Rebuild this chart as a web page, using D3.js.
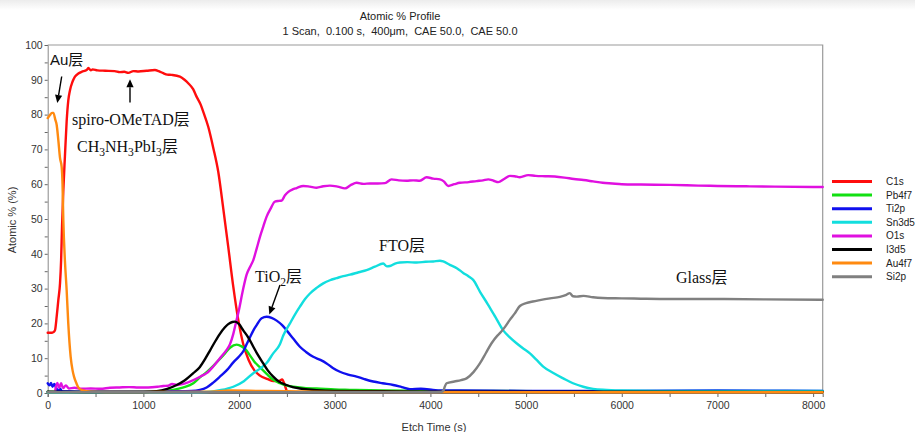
<!DOCTYPE html>
<html>
<head>
<meta charset="utf-8">
<script src="https://cdn.jsdelivr.net/npm/d3@7/dist/d3.min.js"></script>
<style>
  html, body { margin: 0; padding: 0; background: #fff; }
  svg { display: block; }
  .tick text { font-family: "Liberation Sans", Arial, sans-serif; font-size: 10.5px; fill: #333; }
  .serif { font-family: "Liberation Serif", "Times New Roman", "Noto Sans CJK SC", serif; fill: #111; }
</style>
</head>
<body>
<svg id="chart" width="915" height="432"></svg>
<script>
// Depth profile: atomic % of each element versus etch time (s)
const c1s = [[0,17.3],[40,17.3],[60,17.5],[76,18],[94,22],[111,26.7],[129,31.6],[140,38],[150,48],[163,58],[180,68],[198,78],[215,84],[233,87],[260,89.5],[285,90.9],[320,91.8],[355,92.3],[407,92.8],[425,93.4],[450,92.7],[470,93],[520,92.7],[600,92.6],[700,92.5],[755,92.2],[800,92.3],[843,92],[895,92.5],[950,92.4],[1034,92.6],[1121,92.8],[1160,92.5],[1208,91.9],[1250,91.5],[1295,91.4],[1382,90.9],[1430,90],[1469,89],[1520,87.3],[1557,85.1],[1600,82.8],[1626,80.8],[1678,76.5],[1730,70.5],[1783,63.5],[1835,53],[1887,42],[1940,30.5],[1992,21],[2044,14],[2100,9.5],[2160,6.5],[2218,5],[2300,4],[2360,3.4],[2420,3.5],[2450,3.9],[2475,2.5],[2500,0.3]];
const pb4f7 = [[0,0.3],[500,0.3],[1000,0.4],[1200,0.6],[1311,0.9],[1420,1.6],[1522,2.8],[1591,4.5],[1661,6],[1731,7.8],[1800,9.8],[1853,11.4],[1905,13],[1975,13.9],[2027,13.4],[2070,12.5],[2114,10.8],[2160,9],[2218,7.4],[2288,5.5],[2357,3.8],[2427,2.8],[2500,2.1],[2566,1.8],[2700,1.4],[2811,1.3],[3000,1],[3159,0.9],[3507,0.7],[4000,0.6],[4200,0.6],[6000,0.5],[8100,0.5]];
const ti2p = [[0,2.8],[20,2.2],[35,2.9],[50,1.8],[70,2.6],[90,1.4],[110,0.6],[130,1.2],[150,0.5],[300,0.4],[600,0.4],[1000,0.4],[1300,0.5],[1500,0.6],[1591,0.9],[1661,1.6],[1730,3],[1800,4.7],[1870,6.5],[1940,8.8],[2000,10.5],[2044,12],[2079,14],[2114,16],[2150,18],[2184,19.5],[2236,21.5],[2288,21.9],[2340,21.6],[2393,20.8],[2450,19.5],[2497,18],[2570,15.5],[2636,13.3],[2700,11.8],[2775,10.4],[2850,9.5],[2915,8.5],[2980,7.2],[3054,6.1],[3140,5.3],[3229,4.7],[3310,4],[3402,3.3],[3500,2.8],[3611,2.3],[3700,1.7],[3786,1.1],[3900,1.2],[4026,0.9],[4100,0.7],[4300,0.7],[5000,0.6],[6000,0.6],[7000,0.7],[8100,0.6]];
const sn3d5 = [[0,0.2],[1500,0.2],[1661,0.3],[1800,0.8],[1940,1.8],[2050,3.4],[2149,5.7],[2220,7],[2288,8.6],[2357,11.4],[2427,14],[2462,16.5],[2532,20],[2590,22.8],[2636,24.8],[2690,27],[2741,28.6],[2810,30.2],[2880,31.5],[2950,32.4],[3019,33],[3090,33.6],[3159,34],[3250,34.7],[3333,35.3],[3420,36.3],[3507,37.2],[3545,36.4],[3577,36.5],[3630,37.2],[3681,37.5],[3760,37.6],[3856,37.5],[3950,37.7],[4029,37.8],[4100,38],[4134,37.8],[4203,36.8],[4280,35.8],[4343,34.5],[4400,33.5],[4447,32.5],[4520,29],[4600,25.5],[4680,21.8],[4761,18],[4830,16],[4900,14.3],[4970,12.8],[5040,11.4],[5110,9.5],[5179,7.6],[5280,5.8],[5388,4.2],[5490,2.8],[5597,1.8],[5700,1.2],[5841,0.9],[6000,0.7],[6500,0.6],[7000,0.6],[8100,0.6]];
const o1s = [[80,1],[100,2.9],[120,1.5],[140,2.8],[160,1.4],[190,2.2],[220,1.3],[280,1.5],[350,1.2],[450,1.3],[550,1.2],[650,1.5],[750,1.6],[850,1.7],[950,1.6],[1050,1.6],[1150,1.8],[1207,2],[1260,2.1],[1300,2.6],[1350,2.3],[1452,2.9],[1530,3.8],[1600,4.8],[1661,5.7],[1730,7.6],[1800,10],[1870,12.4],[1905,14],[1940,17],[1970,20.5],[2000,24],[2040,29.5],[2079,34],[2120,36.5],[2149,38.2],[2184,41.5],[2220,45],[2253,47.8],[2288,50.7],[2330,53],[2375,55],[2420,55.2],[2445,55.3],[2480,56.8],[2515,57.8],[2560,58.5],[2602,58.9],[2671,59.5],[2740,59.3],[2811,59],[2880,59.4],[2950,59.6],[3030,59.3],[3107,58.8],[3170,59.8],[3229,60.4],[3300,60.1],[3368,60.2],[3450,60.2],[3525,60.3],[3594,61.4],[3670,61.1],[3751,61],[3820,61.1],[3890,61],[3960,62],[4030,61.6],[4099,61.4],[4140,60.8],[4186,59.5],[4250,60],[4308,60.4],[4400,60.6],[4482,60.9],[4550,61.1],[4604,61.4],[4660,61],[4709,60.6],[4770,61.5],[4831,62.4],[4880,62.3],[4935,62],[5022,62.6],[5100,62.4],[5200,62.3],[5300,62.2],[5400,61.9],[5500,61.5],[5600,61.2],[5700,60.8],[5800,60.4],[5900,60.2],[6000,60],[6200,59.9],[6500,59.8],[6800,59.6],[7000,59.5],[7300,59.4],[7600,59.3],[8000,59.2],[8100,59.2]];
const i3d5 = [[0,0.4],[500,0.3],[1000,0.3],[1139,0.5],[1250,1.2],[1348,2.3],[1430,3.6],[1522,5.7],[1591,7.5],[1650,10],[1696,12.2],[1750,14.8],[1800,17],[1850,18.8],[1887,19.8],[1930,20.4],[1957,20.5],[2000,19.8],[2044,18],[2100,15.8],[2149,13.3],[2200,10.8],[2253,8.5],[2300,6.5],[2357,4.7],[2420,3.2],[2497,2.3],[2560,1.7],[2636,1.3],[2720,1],[2811,0.8],[3000,0.6],[3500,0.5],[4000,0.4],[4200,0.4],[8100,0.3]];
const au4f7 = [[0,79],[24,79.9],[45,80.5],[59,80.5],[80,78.5],[94,77],[111,72.7],[129,67.5],[146,65],[155,60],[163,50],[180,38],[198,29.6],[215,20],[240,10.4],[260,6.5],[275,4.7],[300,2.8],[320,1.6],[360,0.8],[450,0.4],[600,0.3],[1000,0.3],[1700,0.4],[1900,0.7],[2200,0.6],[2500,0.5],[3000,0.3],[8100,0.2]];
const si2p = [[0,0.2],[4000,0.2],[4110,0.3],[4134,0.6],[4150,1.8],[4169,2.8],[4250,3.3],[4320,3.7],[4378,4.2],[4450,6],[4517,8.5],[4580,11.5],[4639,14.3],[4700,16.5],[4726,17.2],[4780,19],[4830,21],[4880,22.8],[4935,25],[5000,25.8],[5070,26.3],[5144,26.7],[5250,27.2],[5353,27.6],[5420,28.2],[5457,28.7],[5490,27.8],[5530,27.7],[5600,27.9],[5700,27.5],[5800,27.3],[6000,27.2],[6200,27.1],[6500,27],[7000,27],[7500,26.9],[8100,26.8]];

const seriesNames = ["C1s", "Pb4f7", "Ti2p", "Sn3d5", "O1s", "I3d5", "Au4f7", "Si2p"];
const seriesData = [c1s, pb4f7, ti2p, sn3d5, o1s, i3d5, au4f7, si2p];
const seriesColors = ["#ff0d0d", "#12e012", "#1010ee", "#12dede", "#e010e0", "#000000", "#ff8a10", "#808080"];

const xTicks = d3.range(0, 8001, 500);
const yTicks = d3.range(0, 101, 5);

const svg = d3.select("#chart");
const x = d3.scaleLinear().domain([0, 8100]).range([47.7, 822.7]);
const y = d3.scaleLinear().domain([0, 100]).range([393, 45]);

// light header band
const grad = svg.append("defs").append("linearGradient").attr("id", "hdr").attr("x1", 0).attr("x2", 0).attr("y1", 0).attr("y2", 1);
grad.append("stop").attr("offset", "0%").attr("stop-color", "#ececec");
grad.append("stop").attr("offset", "100%").attr("stop-color", "#ffffff");
svg.append("rect").attr("x", 0).attr("y", 0).attr("width", 915).attr("height", 10).attr("fill", "url(#hdr)");

// titles
svg.append("text").attr("x", 400).attr("y", 20).attr("text-anchor", "middle")
  .style("font-family", "Liberation Sans, Arial, sans-serif").style("font-size", "11px").style("fill", "#222")
  .text("Atomic % Profile");
svg.append("text").attr("x", 400).attr("y", 35).attr("text-anchor", "middle")
  .style("font-family", "Liberation Sans, Arial, sans-serif").style("font-size", "11px").style("fill", "#222")
  .style("white-space", "pre")
  .text("1 Scan,  0.100 s,  400\u03bcm,  CAE 50.0,  CAE 50.0");

// frame
svg.append("path")
  .attr("d", `M${x(0)},${y(100)}H${x(8100)}V${y(0)}`)
  .attr("fill", "none").attr("stroke", "#9a9a9a").attr("stroke-width", 1.2);

// axes
const xAxis = d3.axisBottom(x).tickValues(xTicks).tickSize(4).tickPadding(5)
  .tickFormat(d => d % 1000 === 0 ? d : "");
const gx = svg.append("g").attr("transform", `translate(0,${y(0)})`).call(xAxis);
gx.select(".domain").attr("stroke", "#666");
gx.selectAll(".tick line").attr("stroke", "#666");

const yAxis = d3.axisLeft(y).tickValues(yTicks).tickSize(3).tickPadding(2)
  .tickFormat(d => d % 10 === 0 ? d : "");
const gy = svg.append("g").attr("transform", `translate(${x(0)},0)`).call(yAxis);
gy.select(".domain").attr("stroke", "#888");
gy.selectAll(".tick line").attr("stroke", "#666");

// axis titles
svg.append("text").attr("x", 434).attr("y", 431).attr("text-anchor", "middle")
  .style("font-family", "Liberation Sans, Arial, sans-serif").style("font-size", "11px").style("fill", "#333")
  .text("Etch Time (s)");
svg.append("text").attr("transform", "translate(16,220) rotate(-90)").attr("text-anchor", "middle")
  .style("font-family", "Liberation Sans, Arial, sans-serif").style("font-size", "11px").style("fill", "#333")
  .text("Atomic % (%)");

// profile lines
const line = d3.line().x(d => x(d[0])).y(d => y(d[1])).curve(d3.curveMonotoneX);
seriesData.forEach((data, i) => {
  svg.append("path").datum(data)
    .attr("d", line)
    .attr("fill", "none")
    .attr("stroke", seriesColors[i])
    .attr("stroke-width", 2.4)
    .attr("stroke-linejoin", "round")
    .attr("stroke-linecap", "round");
});

// legend
const legend = svg.append("g");
seriesNames.forEach((name, i) => {
  const ly = 181.5 + i * 13.6;
  legend.append("line").attr("x1", 832).attr("x2", 872).attr("y1", ly).attr("y2", ly)
    .attr("stroke", seriesColors[i]).attr("stroke-width", 3);
  legend.append("text").attr("x", 886).attr("y", ly).attr("dy", "0.35em")
    .style("font-family", "Liberation Sans, Arial, sans-serif").style("font-size", "10px").style("fill", "#222")
    .text(name);
});

// layer annotations
const ann = svg.append("g");
function arrow(x1, y1, x2, y2) {
  const a = Math.atan2(y2 - y1, x2 - x1), L = 8, W = 3.6;
  const bx = x2 - L * Math.cos(a), by = y2 - L * Math.sin(a);
  ann.append("line").attr("x1", x1).attr("y1", y1).attr("x2", bx).attr("y2", by)
    .attr("stroke", "#000").attr("stroke-width", 1.4);
  ann.append("path")
    .attr("d", `M${x2},${y2}L${bx + W * Math.sin(a)},${by - W * Math.cos(a)}L${bx - W * Math.sin(a)},${by + W * Math.cos(a)}Z`)
    .attr("fill", "#000");
}
ann.append("text").attr("x", 50).attr("y", 64.5)
  .style("font-family", "Liberation Sans, Arial, 'Noto Sans CJK SC', sans-serif").style("font-size", "15px").style("fill", "#111")
  .text("Au层");
arrow(61.7, 76.5, 57.3, 103);
arrow(130, 102.5, 130, 79.3);

ann.append("text").attr("class", "serif").attr("x", 72).attr("y", 125).style("font-size", "16px")
  .text("spiro-OMeTAD层");

// text with subscript digits; each run resets the baseline offset of the previous one
function subText(xp, yp, parts, size) {
  const t = ann.append("text").attr("class", "serif").attr("x", xp).attr("y", yp).style("font-size", size + "px");
  let shift = 0;
  parts.forEach(p => {
    const target = p.sub ? 4 : 0;
    t.append("tspan")
      .attr("dy", target - shift)
      .style("font-size", (p.sub ? size * 0.72 : size) + "px")
      .text(p.t);
    shift = target;
  });
}
subText(77, 152, [{t: "CH"}, {t: "3", sub: true}, {t: "NH"}, {t: "3", sub: true}, {t: "PbI"}, {t: "3", sub: true}, {t: "层"}], 16);
subText(255, 282, [{t: "TiO"}, {t: "2", sub: true}, {t: "层"}], 16);
arrow(280, 285, 269.3, 314.5);

ann.append("text").attr("class", "serif").attr("x", 379).attr("y", 251).style("font-size", "16px").text("FTO层");
ann.append("text").attr("class", "serif").attr("x", 676).attr("y", 282.5).style("font-size", "16px").text("Glass层");
</script>
</body>
</html>
